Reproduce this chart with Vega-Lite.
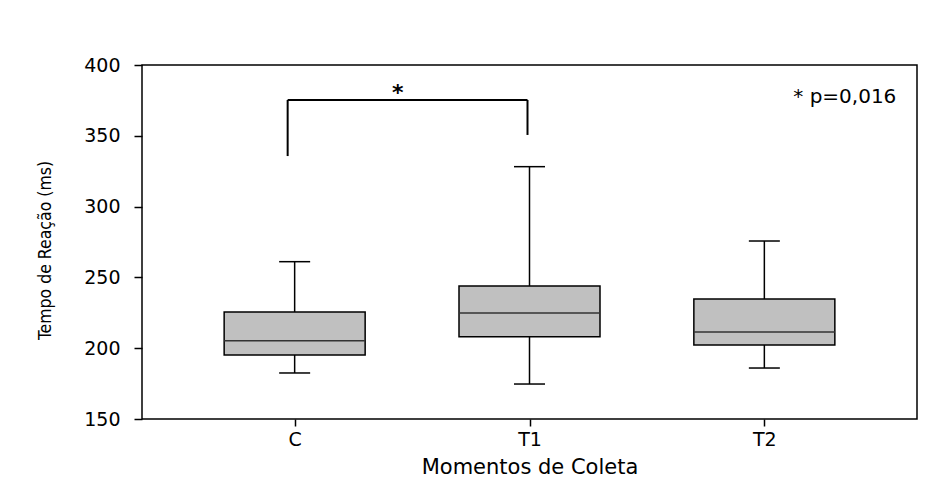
{
  "$schema": "https://vega.github.io/schema/vega-lite/v6.json",
  "width": 775,
  "height": 354,
  "autosize": {"type": "none"},
  "padding": {"left": 142, "top": 65, "right": 20, "bottom": 58},
  "background": "white",
  "config": {
    "view": {"stroke": "black", "strokeWidth": 1.5},
    "axis": {"grid": false, "domain": false, "tickColor": "black", "tickWidth": 1.5, "labelColor": "black", "titleColor": "black", "titleFontWeight": "normal"}
  },
  "datasets": {
    "boxes": [
      {"momento": "C", "lower": 182.5, "q1": 195.2, "median": 205.3, "q3": 225.6, "upper": 261.1},
      {"momento": "T1", "lower": 174.7, "q1": 208.0, "median": 224.9, "q3": 244.0, "upper": 328.2},
      {"momento": "T2", "lower": 186.0, "q1": 202.3, "median": 211.4, "q3": 234.7, "upper": 275.7}
    ],
    "bracket": [
      {"from": "C", "to": "T1", "top": 375.3, "leftBottom": 335.7, "rightBottom": 350.6, "star": "*"}
    ],
    "notes": [
      {"momento": "T2", "y": 375.3, "label": "* p=0,016"}
    ]
  },
  "layer": [
    {
      "data": {"name": "boxes"},
      "mark": {"type": "rule", "color": "black", "strokeWidth": 1.5},
      "encoding": {
        "x": {
          "field": "momento", "type": "nominal",
          "scale": {"type": "point", "padding": 0.65, "domain": ["C", "T1", "T2"]},
          "title": "Momentos de Coleta",
          "axis": {"labelAngle": 0, "tickSize": 7, "labelPadding": 4, "labelFont": "DejaVu Sans", "labelFontSize": 19, "titleFont": "DejaVu Sans", "titleFontSize": 21, "titleY": 54, "titleBaseline": "alphabetic"}
        },
        "y": {
          "field": "q3", "type": "quantitative",
          "scale": {"domain": [150, 400], "nice": false, "zero": false},
          "title": "Tempo de Reação (ms)",
          "axis": {"values": [150, 200, 250, 300, 350, 400], "tickSize": 8, "labelPadding": 14, "labelFont": "DejaVu Sans", "labelFontSize": 19, "titleFont": "DejaVu Sans Condensed, Liberation Sans, sans-serif", "titleFontSize": 17.5, "titleX": -88, "titleY": 185, "titleAngle": 270, "titleAlign": "center", "titleBaseline": "bottom"}
        },
        "y2": {"field": "upper"}
      }
    },
    {
      "data": {"name": "boxes"},
      "mark": {"type": "rule", "color": "black", "strokeWidth": 1.5},
      "encoding": {
        "x": {"field": "momento", "type": "nominal"},
        "y": {"field": "lower", "type": "quantitative"},
        "y2": {"field": "q1"}
      }
    },
    {
      "data": {"name": "boxes"},
      "mark": {"type": "tick", "color": "black", "size": 31, "thickness": 1.5, "opacity": 1},
      "encoding": {
        "x": {"field": "momento", "type": "nominal"},
        "y": {"field": "upper", "type": "quantitative"}
      }
    },
    {
      "data": {"name": "boxes"},
      "mark": {"type": "tick", "color": "black", "size": 31, "thickness": 1.5, "opacity": 1},
      "encoding": {
        "x": {"field": "momento", "type": "nominal"},
        "y": {"field": "lower", "type": "quantitative"}
      }
    },
    {
      "data": {"name": "boxes"},
      "mark": {"type": "bar", "width": 141, "fill": "#c0c0c0", "stroke": "black", "strokeWidth": 1.5, "opacity": 1},
      "encoding": {
        "x": {"field": "momento", "type": "nominal"},
        "y": {"field": "q1", "type": "quantitative"},
        "y2": {"field": "q3"}
      }
    },
    {
      "data": {"name": "boxes"},
      "mark": {"type": "tick", "color": "#333333", "size": 141, "thickness": 1.5, "opacity": 1},
      "encoding": {
        "x": {"field": "momento", "type": "nominal"},
        "y": {"field": "median", "type": "quantitative"}
      }
    },
    {
      "data": {"name": "bracket"},
      "mark": {"type": "rule", "color": "black", "strokeWidth": 2, "xOffset": -7},
      "encoding": {
        "x": {"field": "from", "type": "nominal"},
        "y": {"field": "leftBottom", "type": "quantitative"},
        "y2": {"field": "top"}
      }
    },
    {
      "data": {"name": "bracket"},
      "mark": {"type": "rule", "color": "black", "strokeWidth": 2, "xOffset": -7, "x2Offset": -2},
      "encoding": {
        "x": {"field": "from", "type": "nominal"},
        "x2": {"field": "to"},
        "y": {"field": "top", "type": "quantitative"}
      }
    },
    {
      "data": {"name": "bracket"},
      "mark": {"type": "rule", "color": "black", "strokeWidth": 2, "xOffset": -2},
      "encoding": {
        "x": {"field": "to", "type": "nominal"},
        "y": {"field": "rightBottom", "type": "quantitative"},
        "y2": {"field": "top"}
      }
    },
    {
      "data": {"name": "bracket"},
      "mark": {"type": "text", "font": "DejaVu Sans", "fontSize": 22, "fontWeight": "bold", "color": "black", "align": "center", "baseline": "alphabetic", "xOffset": 103, "dy": 0},
      "encoding": {
        "x": {"field": "from", "type": "nominal"},
        "y": {"field": "top", "type": "quantitative"},
        "text": {"field": "star"}
      }
    },
    {
      "data": {"name": "notes"},
      "mark": {"type": "text", "font": "DejaVu Sans", "fontSize": 20, "color": "black", "align": "right", "baseline": "alphabetic", "xOffset": 132, "dy": 3},
      "encoding": {
        "x": {"field": "momento", "type": "nominal"},
        "y": {"field": "y", "type": "quantitative"},
        "text": {"field": "label"}
      }
    }
  ]
}
